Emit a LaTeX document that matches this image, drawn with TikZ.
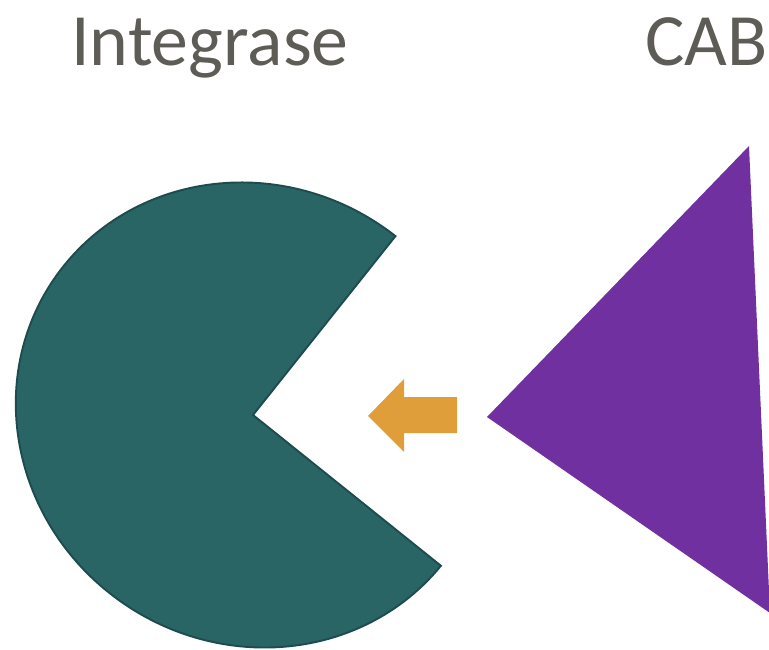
\documentclass[tikz,border=0pt]{standalone}
\usepackage{fontspec}
\setmainfont{Carlito}
\definecolor{pacteal}{RGB}{42,101,102}
\definecolor{pacedge}{RGB}{30,76,78}
\definecolor{cabpurple}{RGB}{112,48,160}
\definecolor{arrgold}{RGB}{224,158,58}
\definecolor{labgray}{RGB}{94,92,86}
\tikzset{lab/.style={inner sep=0pt,text=labgray,font=\fontsize{42}{50}\selectfont}}

\begin{document}
\begin{tikzpicture}
                \useasboundingbox (0,0) rectangle (15.38,12.98);
                \node[lab,anchor=base] (integrase) at (4.20,11.66) {Integrase};
                \node[lab,anchor=base west] (cab) at (12.90,11.66) {CAB};
                \begin{scope}[shift={(5.06,4.68)},rotate=-34]
                    \draw[fill=pacteal,draw=pacedge,line width=1.1pt,line join=miter] (0,0)--(85.7:4.82 and 4.572) arc[start angle=85.7,end angle=355,x radius=4.82,y radius=4.572]--cycle;
                \end{scope}
                \fill[arrgold] (7.36,4.66)--(8.08,5.40)--(8.08,5.04)--(9.14,5.04)--(9.14,4.32)--(8.08,4.32)--(8.08,3.94)--cycle;
                \fill[cabpurple] (14.98,10.06)--(9.74,4.64)--(15.40,0.72)--cycle;
            \end{tikzpicture}
\end{document}
